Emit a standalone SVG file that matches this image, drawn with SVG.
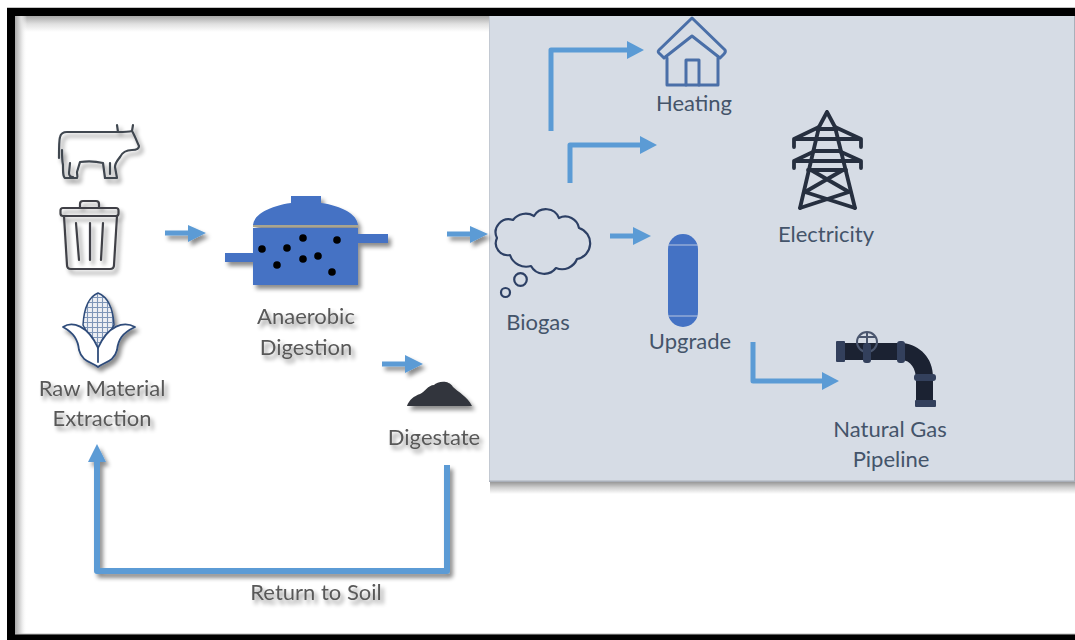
<svg xmlns="http://www.w3.org/2000/svg" width="1075" height="640" viewBox="0 0 1075 640">
<style>
.lbl{font-family:"Lato","Open Sans","Liberation Sans",sans-serif;font-size:22px;text-anchor:middle}
.out{fill:#595959;filter:url(#sh)}
.in{fill:#44546a}
.ln{fill:none;stroke:#5b9bd5;stroke-width:5;stroke-linejoin:round}
.ah{fill:#5b9bd5}
.ic{fill:none;stroke-linejoin:round;stroke-linecap:round}
</style>
<defs>
<filter id="sh" filterUnits="userSpaceOnUse" x="0" y="0" width="1075" height="640"><feDropShadow dx="3" dy="4" stdDeviation="2.2" flood-color="#000" flood-opacity="0.45"/></filter>
<linearGradient id="gt" x1="0" y1="0" x2="0" y2="1"><stop offset="0" stop-color="#a8a8a8"/><stop offset="0.5" stop-color="#e0e0e0"/><stop offset="1" stop-color="#fff"/></linearGradient>
<linearGradient id="gl" x1="0" y1="0" x2="1" y2="0"><stop offset="0" stop-color="#a8a8a8"/><stop offset="0.5" stop-color="#e0e0e0"/><stop offset="1" stop-color="#fff" stop-opacity="0"/></linearGradient>
<linearGradient id="gb" x1="0" y1="0" x2="0" y2="1"><stop offset="0" stop-color="#8e8e8e"/><stop offset="0.5" stop-color="#cfcfcf"/><stop offset="1" stop-color="#fff"/></linearGradient>
<pattern id="cob" width="5" height="5" patternUnits="userSpaceOnUse"><rect width="5" height="5" fill="#eef0f4"/><path d="M0 2.5H5M2.5 0V5" stroke="#7f96b8" stroke-width="1.1"/></pattern>
</defs>
<rect width="1075" height="640" fill="#fff"/>
<g id="frame">
<rect x="15" y="16" width="475" height="16" fill="url(#gt)"/>
<rect x="15" y="16" width="12" height="618" fill="url(#gl)"/>
<rect x="7" y="7.500" width="1068" height="1" fill="#8a8a8a"/>
<path d="M7 8H1075V16H15V634H1075V640H7Z" fill="#000"/>
<rect x="15" y="633.500" width="1060" height="1" fill="#bdbdbd"/>
</g>
<g id="panel">
<rect x="490" y="481" width="585" height="13" fill="url(#gb)"/>
<rect x="489" y="16" width="586" height="466" fill="#d6dce5"/>
<rect x="489" y="16" width="1" height="466" fill="#c3c9d2"/>
<rect x="489" y="480.500" width="586" height="1.500" fill="#aab0ba"/>
<rect x="1074" y="16" width="1" height="466" fill="#aab0ba"/>
</g>
<g id="connectors">
<g filter="url(#sh)">
<path class="ln" d="M165 233H190"/><path class="ah" d="M188 225L206 233L188 242Z"/>
<path class="ln" d="M447 234H472"/><path class="ah" d="M470 226L488 234L470 243Z"/>
<path class="ln" d="M382 364H407"/><path class="ah" d="M405 355L423 364L405 373Z"/>
<path class="ln" style="stroke-width:6" d="M447 465V571H97V460"/><path class="ah" d="M88 462L97 444L106 462Z"/>
</g>
<path class="ln" d="M610 236H635"/><path class="ah" d="M633 227L651 236L633 245Z"/>
<path class="ln" d="M551 131V50H630"/><path class="ah" d="M627 41L644 50L627 59Z"/>
<path class="ln" d="M570 183V145H643"/><path class="ah" d="M640 136L657 145L640 154Z"/>
<path class="ln" d="M753 342V381H825"/><path class="ah" d="M822 372L839 381L822 390Z"/>
</g>
<g id="raw-material">
<g filter="url(#sh)">
<g id="cow" class="ic" stroke="#3f4650" stroke-width="2.200" fill="none">
<path d="M59 158C59 148 59 140 60 137C61 133 63 132 67 132H118L117 125M118 132C122 132 128 132 132 131L133 125M132 131C135 136 137 142 139 146C139 149 135 150 132 150C126 150 122 153 120 157C117 161 115 163 115 167L117 178H105L103 163C95 161 87 161 80 162L77 172C77 175 78 177 77 178H65C63 177 63 172 63 165C62 160 62 155 62 150"/>
<path d="M70 163L69 173C69 176 71 177 73 177M110 163L110 174"/>
</g>
<g id="bin" class="ic" stroke="#3f4146" stroke-width="2.200" fill="none">
<rect x="60.500" y="208" width="58" height="8" rx="2.500"/>
<path d="M80 208V204Q80 201 83 201H96Q99 201 99 204V208"/>
<path d="M64 216L67 265Q67 269 71 269H110Q114 269 114 265L117 216"/>
<path d="M76 223L79 260M90 223V260M103 223L101 260"/>
</g>
<g id="corn" class="ic" stroke="#2f4c7a" stroke-width="1.800">
<path d="M98 293C88 297 84 308 83 325C87 333 92 340 98 348C104 340 110 333 114 325C113 308 108 297 98 293Z" fill="url(#cob)" stroke-width="1.500"/>
<path d="M63 327C72 321 88 325 98 348C108 325 124 321 135 327C122 333 118 340 117 350C114 362 104 362 98 367C92 362 82 362 79 350C78 340 74 333 63 327Z" fill="#fff"/>
<path d="M98 348V362"/>
</g>
</g>
<text class="lbl out" x="102" y="396">Raw Material</text>
<text class="lbl out" x="102" y="426">Extraction</text>
</g>
<g id="digester">
<g filter="url(#sh)">
<path d="M253 225C254 214 270 206 291 203V196H321V203C342 206 357 214 358 225Z" fill="#4472c4"/>
<rect x="253" y="225" width="105" height="2" fill="#a9a58f"/>
<rect x="253" y="228" width="105" height="57" fill="#4472c4"/>
<rect x="225" y="253" width="28" height="9" fill="#4472c4"/>
<rect x="358" y="234" width="30" height="9" fill="#4472c4"/>
</g>
<g fill="#000">
<circle cx="262" cy="249" r="3.800"/><circle cx="287" cy="248" r="3.800"/><circle cx="303" cy="238" r="3.800"/><circle cx="337" cy="240" r="3.800"/>
<circle cx="277" cy="265" r="3.800"/><circle cx="303" cy="259" r="3.800"/><circle cx="318" cy="256" r="3.800"/><circle cx="332" cy="272" r="3.800"/>
</g>
<text class="lbl out" x="306" y="324">Anaerobic</text>
<text class="lbl out" x="306" y="355">Digestion</text>
</g>
<g id="digestate">
<path filter="url(#sh)" d="M407 406C409 400 414 396 420 394C425 392 428 385 434 385C437 382 448 379 453 387C458 392 467 396 472 406Z" fill="#33363c"/>
<text class="lbl out" x="434" y="445">Digestate</text>
</g>
<text id="return-label" class="lbl out" x="316" y="600">Return to Soil</text>
<g id="biogas">
<path class="ic" stroke="#2d4065" stroke-width="2.200" d="M497 238A13 13 0 0 1 513 220A16 16 0 0 1 534 216A14 14 0 0 1 559 218A14 14 0 0 1 579 228A16 16 0 0 1 577 259A16 16 0 0 1 556 268A15 15 0 0 1 531 266A17 17 0 0 1 510 255A12 12 0 0 1 497 238Z"/>
<circle class="ic" stroke="#2d4065" stroke-width="2.200" cx="520.500" cy="279.500" r="6.300"/>
<circle class="ic" stroke="#2d4065" stroke-width="2.200" cx="505.500" cy="292.500" r="4.500"/>
<text class="lbl in" x="538" y="330">Biogas</text>
</g>
<g id="heating">
<g class="ic" stroke="#4a6fa8" stroke-width="3">
<path d="M692 18L725 50Q726 52 724 54L720 58L692 36L664 58L660 54Q657 52 659 50Z"/>
<path d="M667 58V85H718V58"/>
<path d="M686 85V60H699V85"/>
</g>
<text class="lbl in" x="694" y="111">Heating</text>
</g>
<g id="electricity">
<g class="ic" stroke="#262f3f" stroke-width="3.800">
<path d="M827 112L819 127L800 208M827 112L835 127L855 208"/>
<path d="M794 147V139L819 127M861 147V139L835 127M794 139H861"/>
<path d="M794 168V161L815 151M861 168V161L839 151M794 161H861"/>
<path d="M817 129H837M815 151H839"/>
<path d="M811 170L849 192L800 208M843 170L805 192L855 208M808 170H846"/>
</g>
<text class="lbl in" x="826" y="242">Electricity</text>
</g>
<g id="upgrade">
<rect x="668" y="234" width="30" height="93" rx="15" fill="#4472c4"/>
<path d="M668 245H698M668 316H698" stroke="#b9c6e0" stroke-width="1"/>
<text class="lbl in" x="690" y="349">Upgrade</text>
</g>
<g id="pipeline">
<path d="M845 343H903C920 345 933 358 933 377V402H916V380C916 369 911 360 901 360H845Z" fill="#1b2232"/>
<rect x="836" y="341" width="9" height="21" rx="1" fill="#33405c"/>
<rect x="897" y="341" width="8" height="22" rx="3" fill="#33405c"/>
<rect x="914" y="374" width="22" height="7" rx="3" fill="#33405c"/>
<rect x="915" y="400" width="21" height="7" rx="1" fill="#33405c"/>
<circle cx="867" cy="342" r="10" fill="none" stroke="#4a566e" stroke-width="2"/>
<path d="M859 337H875M867 333V352" stroke="#4a566e" stroke-width="2"/>
<rect x="863" y="343" width="8" height="20" rx="3" fill="#33405c"/>
<text class="lbl in" x="890" y="437">Natural Gas</text>
<text class="lbl in" x="891" y="467">Pipeline</text>
</g>
</svg>
